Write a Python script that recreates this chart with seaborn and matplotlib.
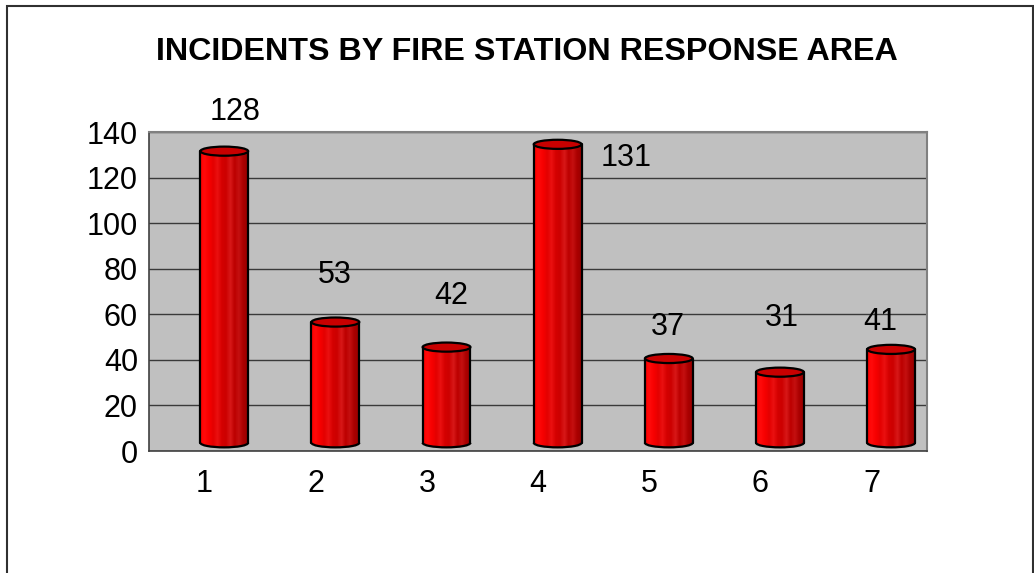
import numpy as np
import pandas as pd
import seaborn as sns
import matplotlib.pyplot as plt
from matplotlib.patches import Ellipse, Arc, Rectangle
from matplotlib.colors import LinearSegmentedColormap

# data
stations = ['1', '2', '3', '4', '5', '6', '7']
incidents = [128, 53, 42, 131, 37, 31, 41]

# where excel put each value label (offset from the bar, category units / data units)
label_dx = [0.27, 0.17, 0.22, 0.79, 0.17, 0.19, 0.08]
label_dy = [21, 24.4, 26, -2.2, 17.5, 27.5, 15.7]

df = pd.DataFrame({'station': stations, 'incidents': incidents})

sns.set_style('white')
plt.rcParams['font.family'] = ['Liberation Sans', 'DejaVu Sans']
plt.rcParams['text.color'] = 'black'
plt.rcParams['xtick.labelcolor'] = 'black'
plt.rcParams['ytick.labelcolor'] = 'black'

fig = plt.figure(figsize=(10.34, 5.73), dpi=100)
ax = fig.add_axes([0.1441, 0.2129, 0.7524, 0.5567])
ax.set_facecolor('#c0c0c0')

sns.barplot(data=df, x='station', y='incidents', color='red', width=0.43, ax=ax, zorder=3)

# cylinder look: gradient body, elliptic top and bottom, 3d shift
shift = 0.177
depth = 3.6
eh = 4.0
cmap = LinearSegmentedColormap.from_list('cyl', ['#ff0000', '#ff0a0a', '#f60000', '#e40000',
                                                 '#ea1010', '#d40000', '#cc0000', '#d81818',
                                                 '#bc0000', '#c41010', '#aa0000', '#9a0000'])
grad = np.linspace(0, 1, 64).reshape(1, -1)
for p in list(ax.patches):
    x0 = p.get_x() + shift
    w = p.get_width()
    h = p.get_height()
    p.set_x(x0)
    p.set_y(depth)
    p.set_linewidth(0)
    p.set_alpha(0)
    cx = x0 + w / 2
    body = Rectangle((x0, depth), w, h, transform=ax.transData)
    bot = Ellipse((cx, depth), w, eh, transform=ax.transData)
    for clip in (body, bot):
        im = ax.imshow(grad, cmap=cmap, aspect='auto', zorder=3,
                       extent=(x0, x0 + w, depth - eh, depth + h))
        im.set_clip_path(clip)
    ax.add_patch(Arc((cx, depth), w, eh, theta1=180, theta2=360,
                     color='black', lw=1.6, zorder=4))
    ax.plot([x0, x0], [depth, depth + h], color='black', lw=1.6, zorder=4)
    ax.plot([x0 + w, x0 + w], [depth, depth + h], color='black', lw=1.6, zorder=4)
    ax.add_patch(Ellipse((cx, depth + h), w, eh, facecolor='#c80000',
                         edgecolor='black', lw=1.6, zorder=5))

for i, v in enumerate(incidents):
    ax.text(i + label_dx[i], v + label_dy[i], str(v), ha='center', va='center',
            fontsize=22, color='black', clip_on=False, zorder=6)

ax.set_xlim(-0.5, 6.5)
ax.set_ylim(0, 140)
ax.set_yticks(np.arange(0, 141, 20))
ax.set_xticks(range(len(stations)))
ax.set_xticks(np.arange(-0.5, 7, 1), minor=True)
ax.tick_params(axis='x', which='major', length=0, pad=13, labelsize=22)
ax.tick_params(axis='x', which='minor', length=6, width=1, color='#404040', direction='out')
ax.tick_params(axis='y', length=5, width=1, color='#404040', direction='out', pad=3, labelsize=22)
ax.yaxis.grid(True, color='#3a3a3a', lw=1)
ax.set_axisbelow(True)
ax.set_xlabel('')
ax.set_ylabel('')
for s in ['top', 'right']:
    ax.spines[s].set_color('#808080')
    ax.spines[s].set_linewidth(1.5)
for s in ['left', 'bottom']:
    ax.spines[s].set_color('#404040')
    ax.spines[s].set_linewidth(1.2)

fig.text(0.51, 0.91, 'INCIDENTS BY FIRE STATION RESPONSE AREA', ha='center', va='center',
         fontsize=23.2, fontweight='bold', color='black')

# outer chart border
fig.patches.append(Rectangle((0.0068, -0.01), 0.992, 0.9995, transform=fig.transFigure,
                             fill=False, edgecolor='#303030', lw=1.5))

plt.savefig('out.png', dpi=100)
